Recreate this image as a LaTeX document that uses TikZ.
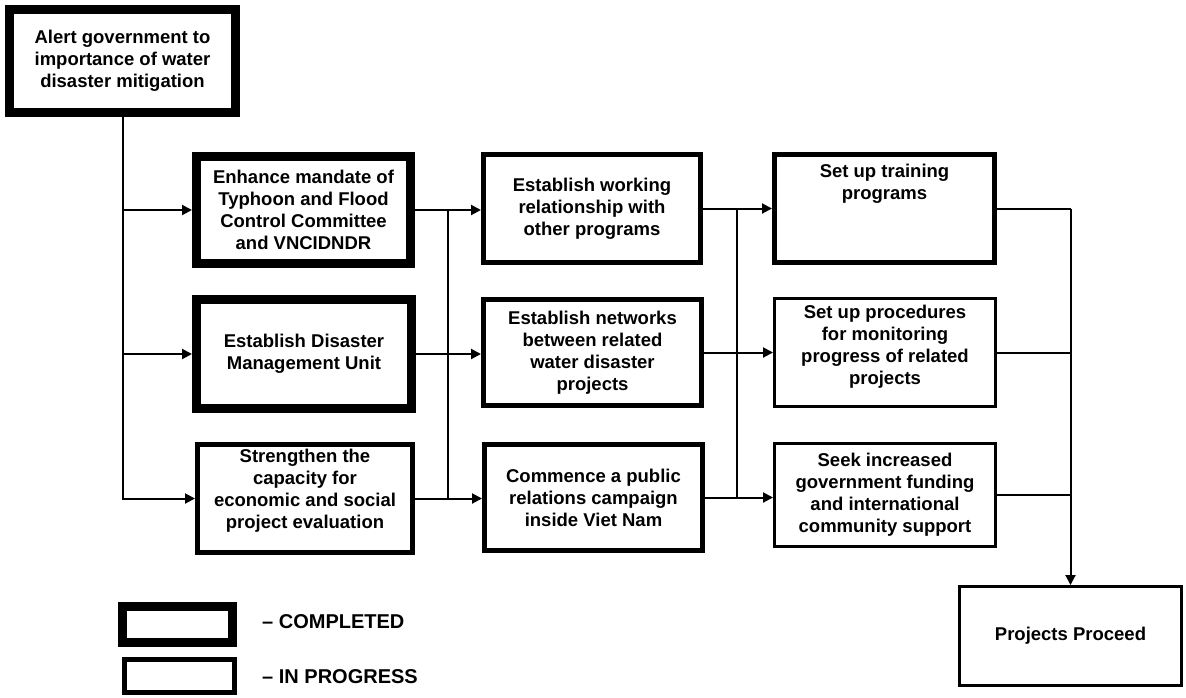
\documentclass[tikz,border=0pt]{standalone}
\usepackage{fontspec}
\setmainfont{Liberation Sans}
\usetikzlibrary{arrows.meta}
\begin{document}
\begin{tikzpicture}[x=1pt,y=-1pt,
  every node/.style={font=\bfseries\fontsize{18.5}{22}\selectfont, align=center, inner sep=0pt},
  box/.style={draw, rectangle, fill=white},
  done/.style={box, line width=9pt},
  prog/.style={box, line width=5pt},
  progthin/.style={box, line width=3pt},
  conn/.style={line width=2pt},
  arr/.style={conn, -{Triangle[length=10pt,width=10pt]}},
  legtxt/.style={anchor=west, font=\bfseries\fontsize{20}{24}\selectfont}
]
\useasboundingbox (0,0) rectangle (1186,697);

% column 0
\node[done, minimum width=226pt, minimum height=103pt] (alert) at (122.5,61)
  {Alert government to\\importance of water\\disaster mitigation};

% column 1
\node[done, minimum width=214pt, minimum height=107pt] (enh) at (303.5,210)
  {Enhance mandate of\\Typhoon and Flood\\Control Committee\\and VNCIDNDR};
\node[done, minimum width=215pt, minimum height=109pt] (dmu) at (304,354)
  {Establish Disaster\\Management Unit};
\node[prog, minimum width=215pt, minimum height=108pt] (str) at (305,498.5) {};
\node (strtxt) at (305,491)
  {Strengthen the\\capacity for\\economic and social\\project evaluation};

% column 2
\node[prog, minimum width=217pt, minimum height=108pt] (ewr) at (592,208.5)
  {Establish working\\relationship with\\other programs};
\node[prog, minimum width=218pt, minimum height=106pt] (enet) at (592.5,352.5)
  {Establish networks\\between related\\water disaster\\projects};
\node[prog, minimum width=218pt, minimum height=106pt] (com) at (593.5,497.5)
  {Commence a public\\relations campaign\\inside Viet Nam};

% column 3
\node[prog, minimum width=220pt, minimum height=108pt] (st) at (884.5,208.5) {};
\node (sttxt) at (884.5,184) {Set up training\\programs};
\node[progthin, minimum width=221pt, minimum height=108pt] (sp) at (885,352.5) {};
\node (sptxt) at (885,347)
  {Set up procedures\\for monitoring\\progress of related\\projects};
\node[progthin, minimum width=221pt, minimum height=103pt] (seek) at (885,495)
  {Seek increased\\government funding\\and international\\community support};

% final
\node[progthin, minimum width=222pt, minimum height=99pt] (pp) at (1070.5,636)
  {Projects Proceed};

% legend
\node[done, minimum width=110pt, minimum height=36pt] (legdone) at (177.5,624.5) {};
\node[legtxt] (legdonetxt) at (262,622) {-- COMPLETED};
\node[prog, minimum width=110pt, minimum height=33pt] (legprog) at (179.5,676) {};
\node[legtxt] (legprogtxt) at (262,677) {-- IN PROGRESS};

% bus x positions
\coordinate (b1x) at (448,0);
\coordinate (b2x) at (737,0);

% connectors from alert
\draw[arr] (alert.south) |- (str.west);
\draw[arr] (alert.south |- enh.west) -- (enh.west);
\draw[arr] (alert.south |- dmu.west) -- (dmu.west);

% bus 1
\draw[arr] (enh.east) -- (enh.east -| ewr.west);
\draw[arr] (dmu.east) -- (dmu.east -| enet.west);
\draw[arr] (str.east) -- (str.east -| com.west);
\draw[conn] (enh.east -| b1x) -- (str.east -| b1x);

% bus 2
\draw[arr] (ewr.east) -- (ewr.east -| st.west);
\draw[arr] (enet.east) -- (enet.east -| sp.west);
\draw[arr] (com.east) -- (com.east -| seek.west);
\draw[conn] (ewr.east -| b2x) -- (com.east -| b2x);

% output bus
\draw[conn] (st.east) -- (st.east -| pp.north);
\draw[conn] (sp.east) -- (sp.east -| pp.north);
\draw[conn] (seek.east) -- (seek.east -| pp.north);
\draw[arr] (st.east -| pp.north) -- (pp.north);
\end{tikzpicture}
\end{document}
